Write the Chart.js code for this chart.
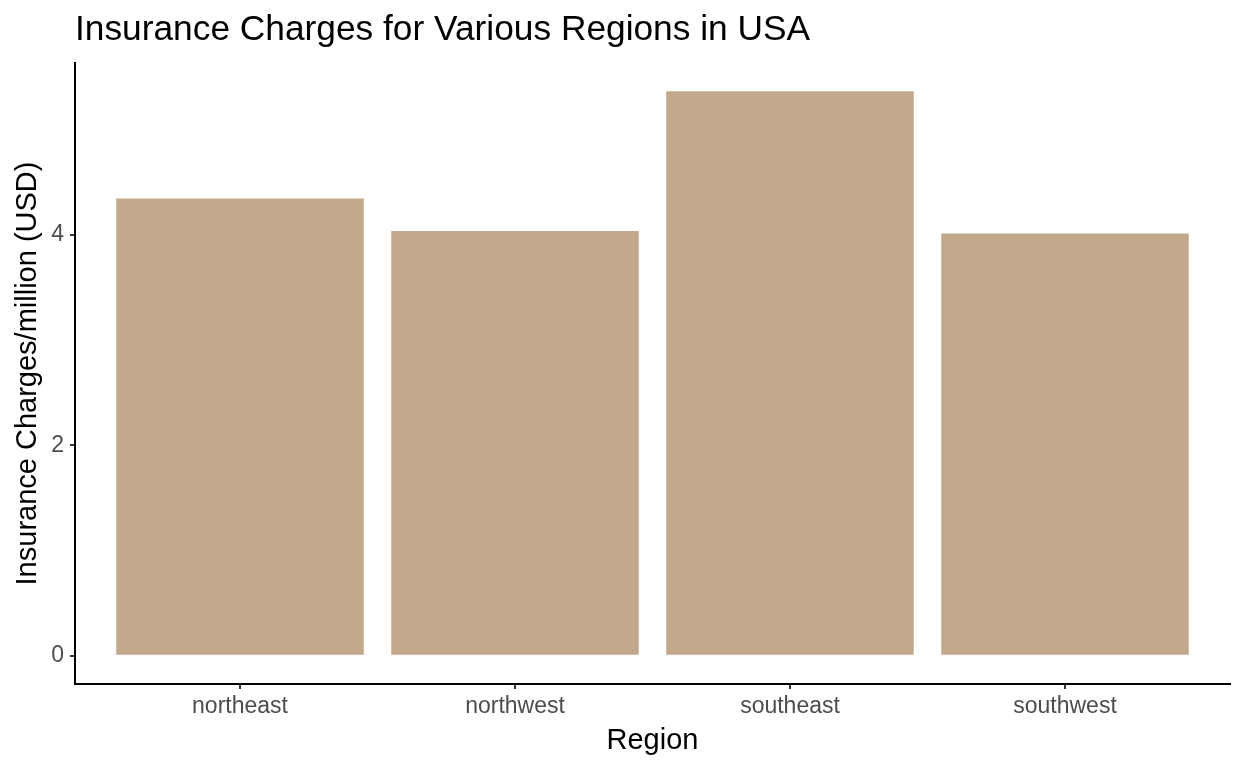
<!DOCTYPE html>
<html>
<head>
<meta charset="utf-8">
<script src="https://cdn.jsdelivr.net/npm/chart.js@4/dist/chart.umd.min.js"></script>
<style>
  html, body { margin: 0; padding: 0; background: #fff; }
  #wrap { width: 1248px; height: 768px; }
</style>
</head>
<body>
<div id="wrap"><canvas id="c" width="1248" height="768"></canvas></div>
<script>
const regions = ['northeast', 'northwest', 'southeast', 'southwest']
const charges = [4.343669, 4.035712, 5.363690, 4.012755] // million USD
const yTicks = [0, 2, 4]
const title = 'Insurance Charges for Various Regions in USA'

// ggplot style expansion: 5% on y, 0.6 units on discrete x
const yMax = Math.max(...charges)
const yPad = yMax * 0.05

const fontFam = '"Liberation Sans", Arial, Helvetica, sans-serif'

// title drawn flush with the plot's left edge
const titlePlugin = {
  id: 'ggTitle',
  afterDraw(chart) {
    const c = chart.ctx
    c.save()
    c.font = '35.3px ' + fontFam
    c.fillStyle = '#000'
    c.textAlign = 'left'
    c.textBaseline = 'alphabetic'
    c.fillText(title, chart.chartArea.left, 40)
    c.restore()
  },
}

const ctx = document.getElementById('c')
new Chart(ctx, {
  type: 'bar',
  data: {
    datasets: [
      {
        data: charges.map((v, i) => ({ x: i + 1, y: v })),
        backgroundColor: '#c2a98c',
        borderWidth: 0,
        barPercentage: 0.9,
        categoryPercentage: 1,
      },
    ],
  },
  options: {
    responsive: false,
    animation: false,
    layout: { padding: { top: 63, right: 18, left: 0, bottom: 0 } },
    plugins: { legend: { display: false }, tooltip: { enabled: false } },
    scales: {
      x: {
        type: 'linear',
        min: 0.4,
        max: 4.6,
        offset: false,
        afterBuildTicks: (s) => { s.ticks = regions.map((r, i) => ({ value: i + 1 })) },
        afterFit: (s) => { s.height = 84 },
        ticks: {
          callback: (v) => regions[v - 1],
          color: '#4d4d4d',
          font: { family: fontFam, size: 23 },
          padding: 4,
          maxRotation: 0,
        },
        grid: { offset: false, drawOnChartArea: false, drawTicks: true, tickLength: 5, color: '#333', lineWidth: 2 },
        border: { display: true, color: '#000', width: 2 },
        title: {
          display: true,
          text: 'Region',
          color: '#000',
          font: { family: fontFam, size: 29 },
          padding: { top: 0, bottom: 10 },
        },
      },
      y: {
        min: -yPad,
        max: yMax + yPad,
        afterBuildTicks: (s) => { s.ticks = yTicks.map((v) => ({ value: v })) },
        afterFit: (s) => { s.width = 75 },
        ticks: {
          color: '#4d4d4d',
          font: { family: fontFam, size: 23 },
          padding: 6,
        },
        grid: { drawOnChartArea: false, drawTicks: true, tickLength: 5, color: '#333', lineWidth: 2 },
        border: { display: true, color: '#000', width: 2 },
        title: {
          display: true,
          text: 'Insurance Charges/million (USD)',
          color: '#000',
          font: { family: fontFam, size: 29 },
          padding: { top: 11, bottom: 0 },
        },
      },
    },
  },
  plugins: [titlePlugin],
})
</script>
</body>
</html>
